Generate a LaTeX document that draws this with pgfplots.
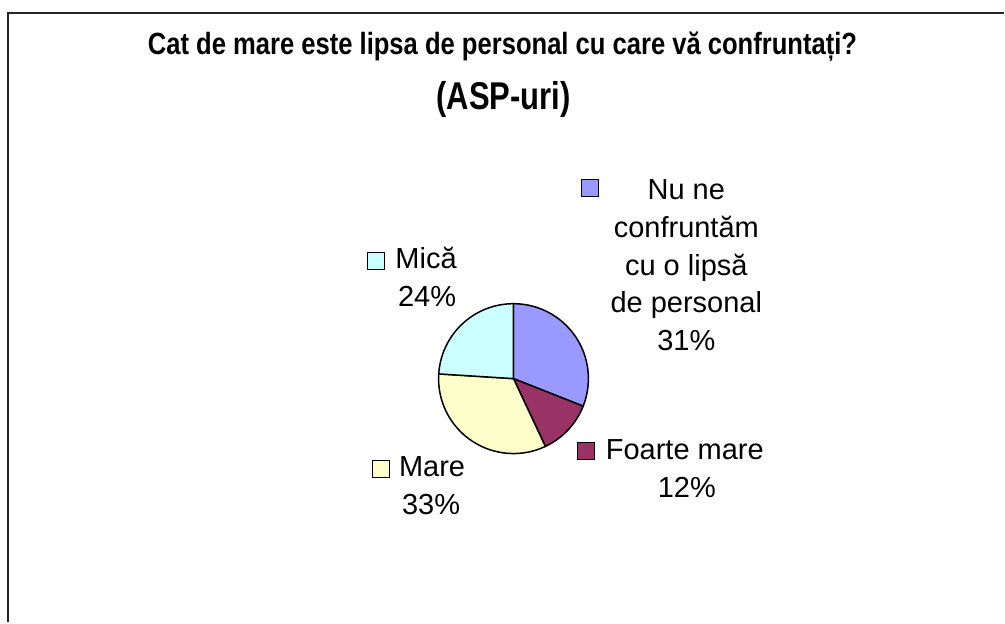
\documentclass[border=0pt]{standalone}
\usepackage{fontspec}
\setmainfont{Liberation Sans}
\usepackage{graphicx}
\usepackage{pgfplots}
\usepackage{pgfplotstable}
\pgfplotsset{compat=1.18}

\definecolor{piecol0}{HTML}{9999FF}
\definecolor{piecol1}{HTML}{993366}
\definecolor{piecol2}{HTML}{FFFFCC}
\definecolor{piecol3}{HTML}{CCFFFF}

% shares in percent, clockwise from 12 o'clock
\pgfplotstableread{
share
31
12
33
24
}\piedata

\newcommand\lbl{\fontsize{14.5}{18}\selectfont}

\begin{document}
\begin{tikzpicture}
% slice angles
\def\acc{90}
\pgfplotsforeachungrouped \i in {0,...,3}{%
  \pgfplotstablegetelem{\i}{share}\of\piedata
  \pgfmathsetmacro\endang{\acc-3.6*\pgfplotsretval}%
  \expandafter\xdef\csname sa\i\endcsname{\acc}%
  \expandafter\xdef\csname ea\i\endcsname{\endang}%
  \xdef\acc{\endang}%
}
\begin{axis}[
    scale only axis,
    width=502.5pt, height=311.5pt,
    xmin=0, xmax=1005, ymin=0, ymax=623,
    hide axis, clip=false,
]
% page extent
\path (axis cs:0,0) rectangle (axis cs:1005,623);
% frame
\draw[line width=1pt, black!85] (axis cs:8,0) -- (axis cs:8,610) -- (axis cs:1005,610);

% title
\node[anchor=base, font=\bfseries\fontsize{12.8}{15}\selectfont] at (axis cs:503,568) {\scalebox{1}[1.2]{Cat de mare este lipsa de personal cu care vă confruntați?}};
\node[anchor=base, font=\bfseries\fontsize{15.5}{18}\selectfont] at (axis cs:504,513) {\scalebox{1}[1.25]{(ASP-uri)}};

% pie
\pgfplotsinvokeforeach{0,...,3}{%
  \edef\temp{\noexpand\filldraw[fill=piecol#1, draw=black, line width=0.75pt, line join=round]
    (axis cs:514,244) -- ++(\csname sa#1\endcsname:37.5pt)
    arc[start angle=\csname sa#1\endcsname, end angle=\csname ea#1\endcsname, radius=37.5pt] -- cycle;}%
  \temp
}

% labels with keys
\tikzset{key/.style={draw=black, line width=0.5pt, minimum size=8.5pt, inner sep=0pt}}
\node[key, fill=piecol0] at (axis cs:591,435) {};
\node[anchor=base, font=\lbl] at (axis cs:687,423) {Nu ne};
\node[anchor=base, font=\lbl] at (axis cs:687,385) {confruntăm};
\node[anchor=base, font=\lbl] at (axis cs:687,347.5) {cu o lipsă};
\node[anchor=base, font=\lbl] at (axis cs:687,310) {de personal};
\node[anchor=base, font=\lbl] at (axis cs:687,272.5) {31\%};

\node[key, fill=piecol1] at (axis cs:587,172) {};
\node[anchor=base, font=\lbl] at (axis cs:685.5,163) {Foarte mare};
\node[anchor=base, font=\lbl] at (axis cs:687.5,125) {12\%};

\node[key, fill=piecol2] at (axis cs:381.5,153.5) {};
\node[anchor=base, font=\lbl] at (axis cs:432.5,146) {Mare};
\node[anchor=base, font=\lbl] at (axis cs:431.5,108) {33\%};

\node[key, fill=piecol3] at (axis cs:376.5,362) {};
\node[anchor=base, font=\lbl] at (axis cs:426.5,354) {Mică};
\node[anchor=base, font=\lbl] at (axis cs:427.5,316) {24\%};
\end{axis}
\end{tikzpicture}
\end{document}
